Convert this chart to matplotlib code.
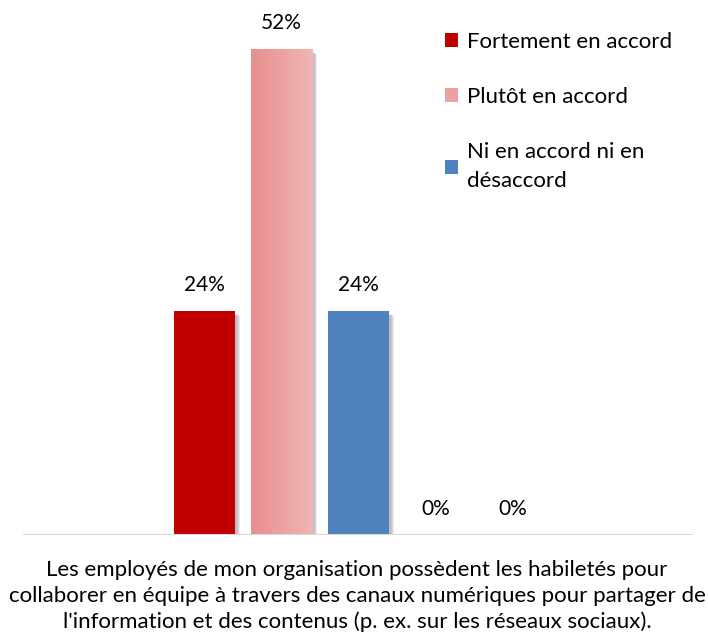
import matplotlib
matplotlib.use("Agg")
import matplotlib.pyplot as plt
import numpy as np
from matplotlib.patches import Rectangle, Patch
from matplotlib.colors import LinearSegmentedColormap

series = ["Fortement en accord", "Plutôt en accord", "Ni en accord ni en\ndésaccord",
          "En désaccord", "Fortement en désaccord"]
values = [24, 52, 24, 0, 0]
labels = ["24%", "52%", "24%", "0%", "0%"]
category = ("Les employés de mon organisation possèdent les habiletés pour\n"
            "collaborer en équipe à travers des canaux numériques pour partager de\n"
            "l'information et des contenus (p. ex. sur les réseaux sociaux).")
colors = ["#C00000", "#EDA0A0", "#4F81BD", "#9BBB59", "#8064A2"]
legend_n = 3

plt.rcParams['font.family'] = ['Lato', 'DejaVu Sans']

W, H = 708, 635
fig = plt.figure(figsize=(W / 100, H / 100), dpi=100)
ax_left, ax_right, ax_bottom, ax_top = 23, 693, 535, 0
ax = fig.add_axes([ax_left / W, 1 - ax_bottom / H, (ax_right - ax_left) / W, (ax_bottom - ax_top) / H])
px_per_unit = (535 - 49) / 52.0
ax.set_ylim(0, (ax_bottom - ax_top) / px_per_unit)
ax.set_xlim(-2.357, 6.344)
for s in ax.spines.values():
    s.set_visible(False)
ax.set_xticks([])
ax.set_yticks([])
ax.axhline(0, color="#D9D9D9", lw=1.5, zorder=5)

x = np.arange(len(values))
width = 61 / 77.0
bars = ax.bar(x, values, width=width, color=colors, zorder=3, linewidth=0)

dx_unit = 1 / 77.0
dy_unit = 1 / px_per_unit
for xi, v in zip(x, values):
    if v <= 0:
        continue
    for k in range(1, 8):
        ax.add_patch(Rectangle((xi - width / 2 + 2 * dx_unit + k * 0.45 * dx_unit, -k * 0.3 * dy_unit),
                               width, v - 3 * dy_unit, facecolor="black",
                               alpha=0.04, linewidth=0, zorder=2))

pink = bars[1]
cmap = LinearSegmentedColormap.from_list("pk", ["#E88E8E", "#F1B5B5"])
grad = np.linspace(0, 1, 256).reshape(1, -1)
img = ax.imshow(grad, cmap=cmap, aspect="auto", zorder=3.5,
                extent=(pink.get_x(), pink.get_x() + pink.get_width(), 0, pink.get_height()))
img.set_clip_path(pink)

for xi, v, lab in zip(x, values, labels):
    ax.text(xi, v + 26 * dy_unit, lab, ha="center", va="center", fontsize=15, color="#000000")

fig.text(357 / W, 1 - 596 / H, category, ha="center", va="center", fontsize=16,
         linespacing=1.38, color="#000000")

handles = [Patch(facecolor=c, edgecolor="none") for c in colors[:legend_n]]
leg = fig.legend(handles, series[:legend_n], loc="upper left",
                 bbox_to_anchor=(436 / W, 1 - 23 / H), frameon=False, fontsize=16,
                 handlelength=0.6, handleheight=0.6, handletextpad=0.4,
                 labelspacing=1.58, borderaxespad=0)
for t in leg.get_texts():
    t.set_linespacing(1.55)

fig.savefig("out.png", dpi=100)
